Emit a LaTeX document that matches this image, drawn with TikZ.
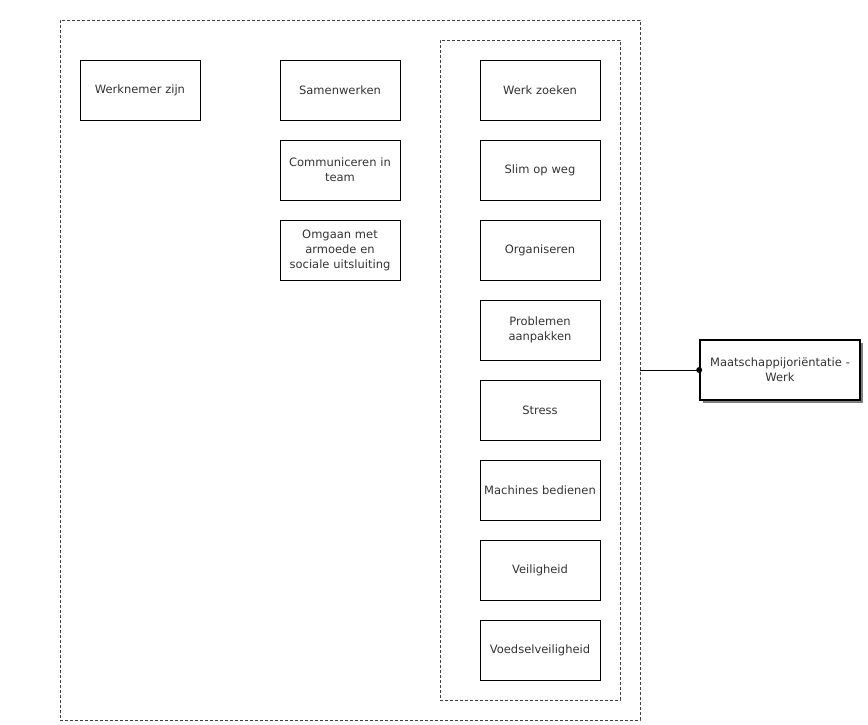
\documentclass[tikz,border=0pt]{standalone}
\usepackage{fontspec}
\setmainfont{DejaVu Sans}
\usetikzlibrary{shadows}
\definecolor{txt}{HTML}{333333}
\begin{document}
\begin{tikzpicture}[x=1pt,y=-1pt,
  box/.style={draw=black,line width=0.8pt,minimum width=120pt,minimum height=60pt,inner sep=1pt,
    align=center,text width=118pt,font=\fontsize{11.5}{15}\selectfont,text=txt},
  group/.style={draw=black!75,dash pattern=on 3pt off 2pt,line width=0.8pt},
  mainbox/.style={draw=black,line width=1.6pt,fill=white,minimum width=160pt,minimum height=60pt,
    align=center,text width=158pt,inner sep=1pt,font=\fontsize{11.5}{15}\selectfont,text=txt,
    drop shadow={shadow xshift=3pt,shadow yshift=-3pt,fill=black!50,opacity=1}}]
\useasboundingbox (0,0) rectangle (868,725);
\node[group,minimum width=580pt,minimum height=700pt,inner sep=0pt] (outer) at (350,370) {};
\node[group,minimum width=180pt,minimum height=660pt,inner sep=0pt] (inner) at (530,370) {};
\node[box] (werknemer) at (140,90) {Werknemer zijn};
\node[box] (samen) at (340,90) {Samenwerken};
\node[box] (comm) at (340,170) {Communiceren in\\team};
\node[box] (omgaan) at (340,250) {Omgaan met\\armoede en\\sociale uitsluiting};
\node[box] (zoeken) at (540,90) {Werk zoeken};
\node[box] (slim) at (540,170) {Slim op weg};
\node[box] (org) at (540,250) {Organiseren};
\node[box] (prob) at (540,330) {Problemen\\aanpakken};
\node[box] (stress) at (540,410) {Stress};
\node[box] (mach) at (540,490) {Machines bedienen};
\node[box] (veil) at (540,570) {Veiligheid};
\node[box] (voed) at (540,650) {Voedselveiligheid};
\node[mainbox] (mo) at (780,370) {Maatschappijoriëntatie -\\Werk};
\draw[line width=0.8pt] (outer.east) -- (mo.west);
\fill (mo.west) circle (3pt);
\end{tikzpicture}
\end{document}
